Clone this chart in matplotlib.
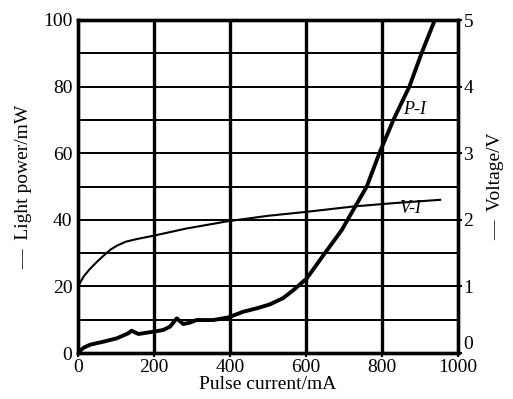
import numpy as np
import matplotlib.pyplot as plt

plt.rcParams['font.family'] = ['Liberation Serif', 'DejaVu Serif']

# P-I curve: pulse current (mA) vs light power (mW)
pi_current = [0, 5, 15, 32, 67, 102, 132, 141, 159, 198, 224, 242, 260, 277, 294, 312,
              356, 396, 435, 470, 505, 540, 567, 602, 646, 694, 724, 760,
              793, 830, 872, 904, 939]
pi_power = [0, 0.6, 1.6, 2.5, 3.4, 4.4, 5.9, 6.7, 5.7, 6.4, 6.9, 7.9, 10.4, 8.7, 9.1, 9.9,
            9.9, 10.7, 12.4, 13.4, 14.6, 16.5, 18.9, 22.4, 29.4, 36.9, 42.9, 50.0,
            60, 70, 80, 90, 100]

# V-I curve: pulse current (mA) vs voltage (V)
vi_current = [0, 5, 15, 31, 50, 67, 85, 102, 125, 154, 198, 286, 396, 500, 602, 725, 830, 953]
vi_voltage = [0.97, 1.05, 1.15, 1.26, 1.37, 1.46, 1.55, 1.61, 1.67, 1.71, 1.76, 1.87, 1.98,
              2.06, 2.12, 2.2, 2.25, 2.3]

fig = plt.figure(figsize=(5.13, 3.99), dpi=100)
ax = fig.add_axes([78 / 513, 46 / 399, 380 / 513, 333 / 399])
ax2 = ax.twinx()

ax.set_xlim(0, 1000)
ax.set_ylim(0, 100)
ax2.set_ylim(0, 5)

# grid
for x in [200, 400, 600, 800]:
    ax.axvline(x, color='black', linewidth=2.4, zorder=1)
for y in np.arange(10, 100, 10):
    ax.axhline(y, color='black', linewidth=1.4, zorder=1)

ax.plot(pi_current, pi_power, color='black', linewidth=2.8, zorder=3)
ax2.plot(vi_current, vi_voltage, color='black', linewidth=1.5, zorder=3)

ax.text(886, 73, 'P-I', fontsize=13, style='italic', ha='center', va='center')
ax.text(873, 43.5, 'V-I', fontsize=13, style='italic', ha='center', va='center')

ax.set_xticks([0, 200, 400, 600, 800, 1000])
ax.set_yticks([0, 20, 40, 60, 80, 100])
ax2.set_yticks([0, 1, 2, 3, 4, 5])

for a in (ax, ax2):
    for s in a.spines.values():
        s.set_linewidth(2.4)
    a.tick_params(labelsize=14, length=3, width=1.5, pad=1)
ax.tick_params(axis='y', length=0, pad=4)

# right-hand zero sits above the 1000 label, as in the original
ax2.yaxis.get_major_ticks()[0].label2.set_va('bottom')

ax.set_xlabel('Pulse current/mA', fontsize=14, labelpad=0)
ax.set_ylabel('—  Light power/mW', fontsize=14, labelpad=8)
ax2.set_ylabel('—  Voltage/V', fontsize=14, labelpad=10)

fig.savefig('out.png', dpi=100)
